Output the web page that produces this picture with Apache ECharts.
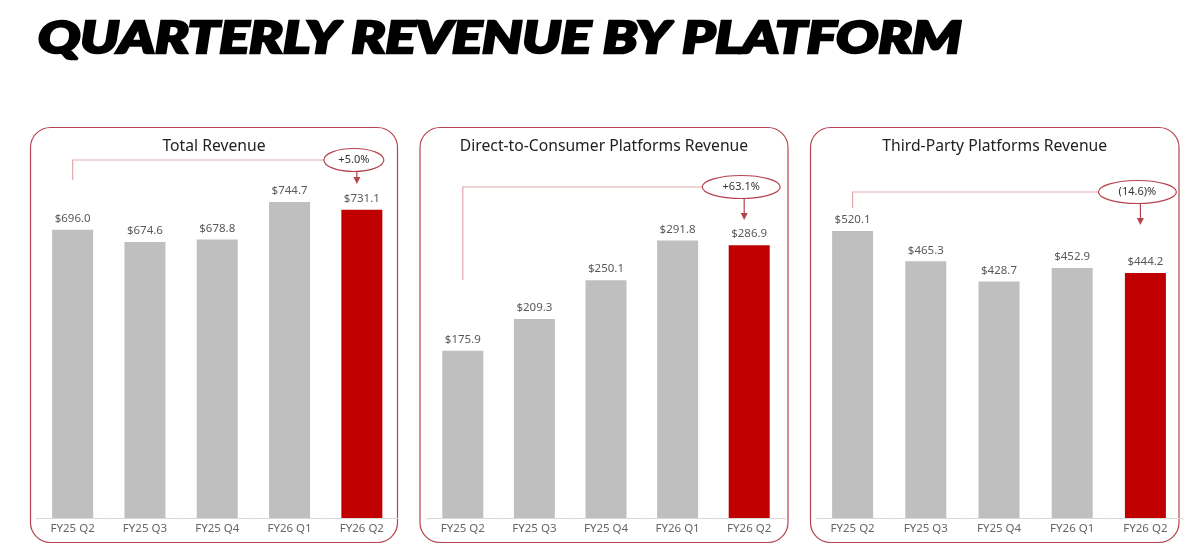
<!DOCTYPE html>
<html>
<head>
<meta charset="utf-8">
<title>Quarterly Revenue by Platform</title>
<script src="https://cdn.jsdelivr.net/npm/echarts@6/dist/echarts.min.js"></script>
<style>
  html, body { margin: 0; padding: 0; background: #fff; }
  #chart { width: 1200px; height: 549px; }
</style>
</head>
<body>
<div id="chart"></div>
<script>
// data
const quarters = ['FY25 Q2', 'FY25 Q3', 'FY25 Q4', 'FY26 Q1', 'FY26 Q2'];
const totalRevenue = [696.0, 674.6, 678.8, 744.7, 731.1];
const dtcRevenue = [175.9, 209.3, 250.1, 291.8, 286.9];
const thirdPartyRevenue = [520.1, 465.3, 428.7, 452.9, 444.2];
const panelTitles = ['Total Revenue', 'Direct-to-Consumer Platforms Revenue', 'Third-Party Platforms Revenue'];
const yoyChange = ['+5.0%', '+63.1%', '(14.6)%'];

// layout of the three panels (pixels)
const panels = [
  { box: [30.5, 127.5, 367, 415], grid: [36.5, 361.5], yMin: 190, yMax: 836, bracketY: 160, lineEnd: 180, arrowTip: 184, rx: 30 },
  { box: [420, 127.5, 368, 415], grid: [427, 358], yMin: 0, yMax: 387, bracketY: 187, lineEnd: 280, arrowTip: 220, rx: 39 },
  { box: [810.5, 127.5, 368.5, 415], grid: [816, 366], yMin: 0, yMax: 667, bracketY: 192, lineEnd: 208, arrowTip: 225, rx: 39 }
];
const seriesData = [totalRevenue, dtcRevenue, thirdPartyRevenue];

const GRAY = '#bfbfbf';
const RED = '#c00000';
const BORDER = '#b5434f';
const BRACKET = '#e2a9ae';
const FONT = 'Noto Sans';

const chart = echarts.init(document.getElementById('chart'));

const grids = [], xAxes = [], yAxes = [], series = [];
panels.forEach((p, i) => {
  grids.push({ left: p.grid[0], width: p.grid[1], top: 150, bottom: 31 });
  xAxes.push({
    type: 'category',
    gridIndex: i,
    data: quarters,
    axisLine: { lineStyle: { color: '#d9d9d9', width: 1 } },
    axisTick: { show: true, length: 2, lineStyle: { color: '#e6e6e6' } },
    axisLabel: { color: '#666', fontSize: 11.5, fontFamily: FONT, margin: 5 }
  });
  yAxes.push({ type: 'value', gridIndex: i, min: p.yMin, max: p.yMax, show: false, splitLine: { show: false } });
  series.push({
    type: 'bar',
    xAxisIndex: i,
    yAxisIndex: i,
    barWidth: 41,
    data: seriesData[i].map((v, j) => ({
      value: v,
      itemStyle: { color: j === quarters.length - 1 ? RED : GRAY }
    })),
    label: {
      show: true,
      position: 'top',
      distance: 5,
      color: '#595959',
      fontSize: 11.5,
      fontFamily: FONT,
      formatter: (d) => '$' + d.value.toFixed(1)
    },
    silent: true
  });
});

chart.setOption({
  animation: false,
  grid: grids,
  xAxis: xAxes,
  yAxis: yAxes,
  series: series
});

// annotations placed from the axes' own pixel positions
const graphics = [{
  type: 'text',
  x: 38,
  y: 39,
  scaleX: 1.27,
  style: {
    text: 'QUARTERLY REVENUE BY PLATFORM',
    fontSize: 44,
    fontWeight: 900,
    fontStyle: 'italic',
    fontFamily: 'Lato',
    fill: '#000',
    stroke: '#000',
    lineWidth: 2.5,
    verticalAlign: 'middle'
  }
}];

panels.forEach((p, i) => {
  const [bx, by, bw, bh] = p.box;
  graphics.push({
    type: 'rect',
    shape: { x: bx, y: by, width: bw, height: bh, r: 20 },
    style: { fill: 'none', stroke: BORDER, lineWidth: 1.2 },
    silent: true
  });
  graphics.push({
    type: 'text',
    x: bx + bw / 2,
    y: 147,
    style: {
      text: panelTitles[i],
      fontSize: 15.7,
      fontFamily: FONT,
      fill: '#222',
      align: 'center',
      verticalAlign: 'middle'
    }
  });
  const firstX = chart.convertToPixel({ xAxisIndex: i }, quarters[0]);
  const lastX = chart.convertToPixel({ xAxisIndex: i }, quarters[quarters.length - 1]);
  const cx = lastX - 8;
  const ry = 11.5;
  graphics.push({
    type: 'polyline',
    shape: { points: [[firstX, p.lineEnd], [firstX, p.bracketY], [cx - p.rx, p.bracketY]] },
    style: { stroke: BRACKET, lineWidth: 1.2, fill: 'none' },
    silent: true
  });
  graphics.push({
    type: 'ellipse',
    shape: { cx: cx, cy: p.bracketY, rx: p.rx, ry: ry },
    style: { fill: '#fff', stroke: BORDER, lineWidth: 1.2 },
    silent: true
  });
  graphics.push({
    type: 'text',
    x: cx,
    y: p.bracketY,
    style: {
      text: yoyChange[i],
      fontSize: 11,
      fontFamily: FONT,
      fill: '#333',
      align: 'center',
      verticalAlign: 'middle'
    }
  });
  const ax = lastX - 5;
  graphics.push({
    type: 'line',
    shape: { x1: ax, y1: p.bracketY + ry, x2: ax, y2: p.arrowTip - 5 },
    style: { stroke: BORDER, lineWidth: 1.2 },
    silent: true
  });
  graphics.push({
    type: 'polygon',
    shape: { points: [[ax - 3.5, p.arrowTip - 7], [ax + 3.5, p.arrowTip - 7], [ax, p.arrowTip]] },
    style: { fill: BORDER },
    silent: true
  });
});

chart.setOption({ graphic: graphics });
</script>
</body>
</html>
